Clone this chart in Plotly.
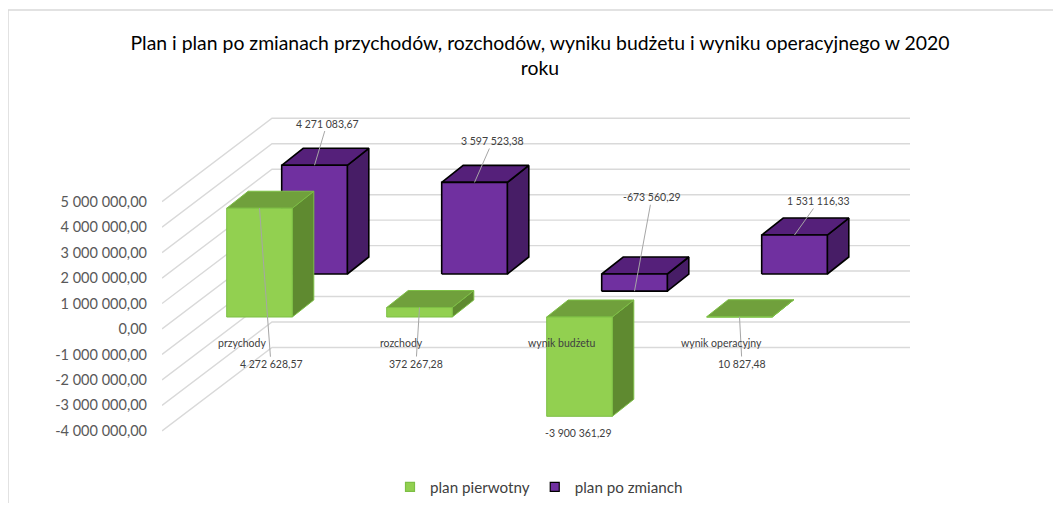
import plotly.graph_objects as go

# ---------------- data ----------------
categories = ["przychody", "rozchody", "wynik budżetu", "wynik operacyjny"]
plan_pierwotny = [4272628.57, 372267.28, -3900361.29, 10827.48]
plan_po_zmianach = [4271083.67, 3597523.38, -673560.29, 1531116.33]
series_names = ["plan pierwotny", "plan po zmianch"]
tick_values = [5e6, 4e6, 3e6, 2e6, 1e6, 0, -1e6, -2e6, -3e6, -4e6]
tick_labels = ["5 000 000,00", "4 000 000,00", "3 000 000,00", "2 000 000,00",
               "1 000 000,00", "0,00", "-1 000 000,00", "-2 000 000,00",
               "-3 000 000,00", "-4 000 000,00"]
title_text = ("Plan i plan po zmianach przychodów, rozchodów, wyniku budżetu "
              "i wyniku operacyjnego w 2020<br>roku")

# ---------------- geometry / style (screen pixels) ----------------
OFF = 8                      # page body margin
W, H = 1061 - 2 * OFF, 511 - 2 * OFF
PLOT_L, PLOT_R, PLOT_T, PLOT_B = 162, 912, 100, 450   # screen pixels
ZERO_PY = 329              # screen row of value 0 on the front wall
PX_SLOT = 160.0            # pixels per category slot
PX_PER_VAL = 25.46 / 1e6   # pixels per unit of value
SLOT0_PX = 243.5           # screen column of first slot centre (depth 0)

X_RANGE = [(PLOT_L - SLOT0_PX) / PX_SLOT, (PLOT_R - SLOT0_PX) / PX_SLOT]
Y_RANGE = [-(PLOT_B - ZERO_PY) / PX_PER_VAL, (ZERO_PY - PLOT_T) / PX_PER_VAL]

BAR_W = 65.6 / PX_SLOT
BAR_DEPTH = (21.5, 17.0)
WALL_DEPTH = (110.0, 83.4)
WALL_END_PX = 910

FONT = "Lato"
GRID_COLOR = "#d9d9d9"
LEADER_COLOR = "#a6a6a6"

series_style = [
    dict(values=plan_pierwotny, row=(16.0, 12.0), front="#92d050", top="#70a03c",
         side="#5f8a30", edge="#7dbf45", edge_w=1.0),
    dict(values=plan_po_zmianach, row=(71.0, 55.0), front="#7030a0", top="#55207a",
         side="#471d66", edge="#000000", edge_w=1.6),
]

# label offsets (pixels, text centre relative to anchor)
label_offsets = [
    [(11.5, 156.0), (-3.5, 56.5), (-2.0, 17.0), (2.5, 47.3)],
    [(12.5, -41.7), (18.2, -41.4), (17.3, -93.9), (24.3, -34.0)],
]
label_leader = [[True, True, False, True], [True, True, True, True]]


def proj(xs, v, dx=0.0, dy=0.0):
    return xs + dx / PX_SLOT, v + dy / PX_PER_VAL


def fmt(v):
    s = f"{abs(v):,.2f}".replace(",", " ").replace(".", ",")
    return ("-" if v < 0 else "") + s


def paper_x(px):
    return (px - PLOT_L) / (PLOT_R - PLOT_L)


def paper_y(py):
    return (PLOT_B - py) / (PLOT_B - PLOT_T)


fig = go.Figure()

# ---- gridlines: side wall diagonal + back wall horizontal ----
for tv in tick_values:
    x0, y0 = proj(X_RANGE[0], tv)
    x1, y1 = proj(X_RANGE[0], tv, *WALL_DEPTH)
    x2 = (WALL_END_PX - SLOT0_PX) / PX_SLOT
    fig.add_trace(go.Scatter(x=[x0, x1, x2], y=[y0, y1, y1], mode="lines",
                             line=dict(color=GRID_COLOR, width=1.4),
                             hoverinfo="skip", showlegend=False))


def poly(pts, fill, edge, ew):
    xs = [p[0] for p in pts] + [pts[0][0]]
    ys = [p[1] for p in pts] + [pts[0][1]]
    fig.add_trace(go.Scatter(x=xs, y=ys, mode="lines", fill="toself",
                             fillcolor=fill, line=dict(color=edge, width=ew),
                             hoverinfo="skip", showlegend=False))


# ---- bars (back row first) ----
for st in reversed(series_style):
    rx, ry = st["row"]
    bx, by = BAR_DEPTH
    for i, v in enumerate(st["values"]):
        lo, hi = min(0, v), max(0, v)
        cx = i + rx / PX_SLOT
        xl, xr = cx - BAR_W / 2, cx + BAR_W / 2
        side = [proj(xr, lo, 0, ry), proj(xr, lo, bx, ry + by),
                proj(xr, hi, bx, ry + by), proj(xr, hi, 0, ry)]
        top = [proj(xl, hi, 0, ry), proj(xr, hi, 0, ry),
               proj(xr, hi, bx, ry + by), proj(xl, hi, bx, ry + by)]
        front = [proj(xl, lo, 0, ry), proj(xr, lo, 0, ry),
                 proj(xr, hi, 0, ry), proj(xl, hi, 0, ry)]
        poly(side, st["side"], st["edge"], st["edge_w"])
        poly(top, st["top"], st["edge"], st["edge_w"])
        poly(front, st["front"], st["edge"], st["edge_w"])

# ---- legend entries ----
for name, st in zip(series_names, series_style):
    fig.add_trace(go.Scatter(x=[None], y=[None], mode="markers", name=name,
                             marker=dict(symbol="square", size=9, color=st["front"],
                                         line=dict(color=st["edge"], width=1.2))))

annotations = []
# data labels with leader lines
for si, st in enumerate(series_style):
    rx, ry = st["row"]
    for i, v in enumerate(st["values"]):
        cx = i + rx / PX_SLOT
        ax, ay = label_offsets[si][i]
        px, py = proj(cx, v, 0, ry)
        annotations.append(dict(
            x=px, y=py, xref="x", yref="y", text=fmt(v),
            showarrow=True, ax=ax, ay=ay, arrowhead=0, arrowwidth=1,
            standoff=0, startstandoff=0,
            arrowcolor=LEADER_COLOR if label_leader[si][i] else "rgba(0,0,0,0)",
            font=dict(family=FONT, size=10.5, color="#404040")))

# category labels
for i, c in enumerate(categories):
    x, y = proj(i, 0, -2.0, -14.0)
    annotations.append(dict(x=x, y=y, xref="x", yref="y", text=c, showarrow=False,
                            font=dict(family=FONT, size=10.5, color="#404040")))

shapes = [
    dict(type="line", xref="paper", yref="paper",
         x0=paper_x(OFF), x1=paper_x(1061), y0=paper_y(10), y1=paper_y(10),
         line=dict(color=GRID_COLOR, width=1.5)),
    dict(type="line", xref="paper", yref="paper",
         x0=paper_x(OFF), x1=paper_x(OFF), y0=paper_y(10), y1=paper_y(511),
         line=dict(color=GRID_COLOR, width=1.5)),
]

fig.update_layout(
    width=W, height=H,
    margin=dict(l=PLOT_L - OFF, r=W - (PLOT_R - OFF), t=PLOT_T - OFF,
                b=H - (PLOT_B - OFF), autoexpand=False),
    paper_bgcolor="white", plot_bgcolor="white",
    font=dict(family=FONT, color="#404040"),
    title=dict(text=title_text, x=(540 - OFF) / W, xanchor="center", xref="container",
               y=1 - (50 - OFF) / H, yanchor="top", yref="container",
               font=dict(family=FONT, size=19.4, color="#000000")),
    xaxis=dict(range=X_RANGE, visible=False, fixedrange=True),
    yaxis=dict(range=Y_RANGE, tickvals=tick_values, ticktext=tick_labels,
               showgrid=False, zeroline=False, showline=False, ticks="",
               ticklabelstandoff=14, fixedrange=True,
               tickfont=dict(family=FONT, size=14.5, color="#595959")),
    legend=dict(orientation="h", x=paper_x(539), xanchor="center",
                y=paper_y(487), yanchor="middle",
                font=dict(family=FONT, size=15.2, color="#404040"),
                itemwidth=30, tracegroupgap=0),
    annotations=annotations,
    shapes=shapes,
)

fig.write_html("out.html")
